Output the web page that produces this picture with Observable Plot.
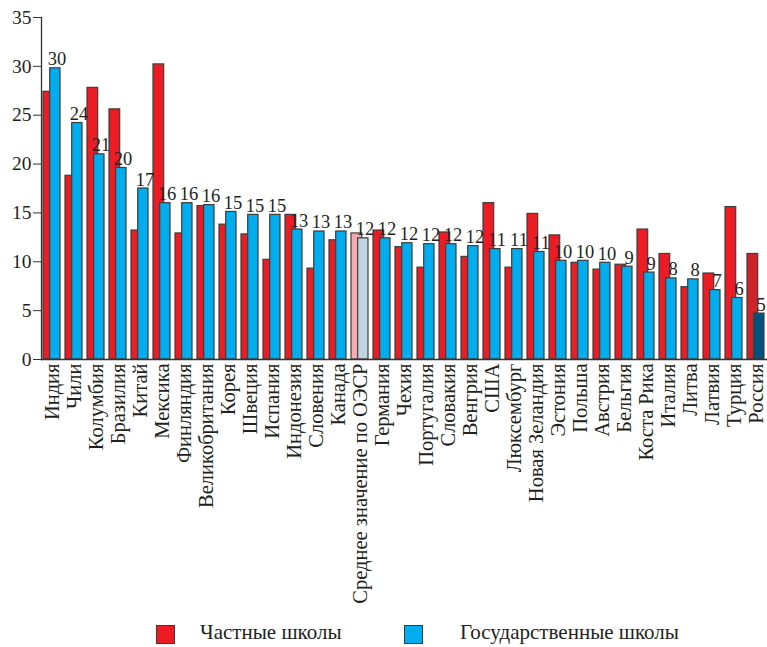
<!DOCTYPE html>
<html><head><meta charset="utf-8">
<script src="https://cdn.jsdelivr.net/npm/d3@7"></script>
<script src="https://cdn.jsdelivr.net/npm/@observablehq/plot@0.6"></script>
<style>
html,body{margin:0;padding:0;background:#fff;overflow:hidden;}
#chart{position:relative;width:767px;height:647px;font-family:'Liberation Serif','Times New Roman',serif;color:#231f20;}
.sw{position:absolute;width:19px;height:19px;border:1.3px solid #3a3a3a;box-sizing:border-box;}
.lt{position:absolute;font-size:21px;line-height:1;white-space:nowrap;}
</style></head><body><div id="chart"></div>
<script>
const countries = ["Индия","Чили","Колумбия","Бразилия","Китай","Мексика","Финляндия","Великобритания","Корея","Швеция","Испания","Индонезия","Словения","Канада","Среднее значение по ОЭСР","Германия","Чехия","Португалия","Словакия","Венгрия","США","Люксембург","Новая Зеландия","Эстония","Польша","Австрия","Бельгия","Коста Рика","Италия","Литва","Латвия","Турция","Россия"];
const privateSchools = [27.4,18.8,27.8,25.6,13.2,30.2,12.9,15.7,13.8,12.8,10.2,14.8,9.3,12.2,12.9,13.2,11.5,9.4,13.0,10.5,16.0,9.4,14.9,12.7,9.9,9.2,9.7,13.3,10.8,7.4,8.8,15.6,10.8];
const publicSchools = [29.8,24.2,21.0,19.6,17.5,16.0,16.0,15.8,15.1,14.8,14.8,13.3,13.1,13.1,12.4,12.4,11.9,11.8,11.8,11.6,11.3,11.3,11.0,10.1,10.1,9.9,9.5,8.9,8.3,8.2,7.1,6.3,4.7];
const valueLabels = ["30","24","21","20","17","16","16","16","15","15","15","13","13","13","12","12","12","12","12","12","11","11","11","10","10","10","9","9","8","8","7","6","5"];
const yTicks = [0,5,10,15,20,25,30,35];
const seriesNames = ["Частные школы","Государственные школы"];

const OECD = "Среднее значение по ОЭСР";
const RUS = "Россия";
const data = countries.map((c,i)=>({country:c, priv:privateSchools[i], pub:publicSchools[i], label:valueLabels[i]}));
const fillPriv = d => d.country===OECD ? "#F4A9AE" : d.country===RUS ? "#CF2329" : "#ED1C24";
const fillPub = d => d.country===OECD ? "#BFD5DF" : d.country===RUS ? "#00527F" : "#00ADEE";
const strokeCol = "#3d3d3d";

const chart = Plot.plot({
  width: 767, height: 620,
  marginLeft: 41, marginRight: 0, marginTop: 17, marginBottom: 261,
  style: {fontFamily: "'Liberation Serif','Times New Roman',serif", color: "#231f20", background: "#fff"},
  color: {type: "identity"},
  x: {domain: countries, paddingInner: 0.216, paddingOuter: 0.06, label: null},
  y: {domain: [0,35], label: null},
  marks: [
    Plot.axisY({ticks: yTicks, tickSize: 8, tickPadding: 2, fontSize: 19.5, label: null, stroke: "#333"}),
    Plot.axisX({tickSize: 0, tickRotate: -90, tickPadding: 4, fontSize: 20.5, label: null}),
    Plot.barY(data, {x: "country", y: "priv", fill: fillPriv, stroke: strokeCol, strokeWidth: 1.2, insetRight: 6.3}),
    Plot.barY(data, {x: "country", y: "pub", fill: fillPub, stroke: strokeCol, strokeWidth: 1.2, insetLeft: 6.7}),
    Plot.text(data, {x: "country", y: "pub", text: "label", dx: 5, dy: -3, lineAnchor: "bottom", fontSize: 18.5, fill: "#231f20"}),
    Plot.ruleY([0], {stroke: "#333", strokeWidth: 1.3}),
    Plot.frame({anchor: "left", stroke: "#333", strokeWidth: 1.3})
  ]
});
const root = document.getElementById("chart");
root.appendChild(chart);

const legendItems = [
  {name: seriesNames[0], color: "#ED1C24", sx: 156, tx: 200},
  {name: seriesNames[1], color: "#00ADEE", sx: 404, tx: 460}
];
legendItems.forEach(it => {
  const s = document.createElement("div");
  s.className = "sw"; s.style.left = it.sx + "px"; s.style.top = "625px"; s.style.background = it.color;
  root.appendChild(s);
  const t = document.createElement("div");
  t.className = "lt"; t.style.left = it.tx + "px"; t.style.top = "622px"; t.textContent = it.name;
  root.appendChild(t);
});
</script></body></html>
